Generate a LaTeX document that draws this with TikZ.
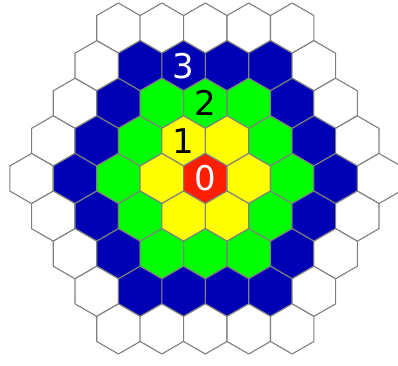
\documentclass[tikz,border=0pt]{standalone}
\usepackage{fontspec}
\setmainfont{DejaVu Sans}
\definecolor{ring0}{HTML}{FF1E00}
\definecolor{ring1}{HTML}{FFFF00}
\definecolor{ring2}{HTML}{00FF00}
\definecolor{ring3}{HTML}{0000B4}
\definecolor{ring4}{HTML}{FFFFFF}
\definecolor{hexgray}{HTML}{7F7F7F}

\begin{document}
\begin{tikzpicture}[
      x=1pt,y=1pt,
      hexln/.style={draw=hexgray,line width=1.1pt,line join=round},
      ringlab/.style={font=\fontsize{34}{34}\selectfont,inner sep=0pt},
    ]
    \def\R{25.07}
    \def\w{43.43}
    \def\cx{205.3}\def\cy{186.5}
    \useasboundingbox (0,0) rectangle (398,365);
    \foreach \r in {-4,...,4}{
      \foreach \q in {-4,...,4}{
        \pgfmathtruncatemacro{\s}{0-(\q)-(\r)}
        \pgfmathtruncatemacro{\d}{max(abs(\q),abs(\r),abs(\s))}
        \ifnum\d<5
          \pgfmathsetmacro{\hx}{\cx+(\q+0.5*\r)*\w}
          \pgfmathsetmacro{\hy}{\cy-1.5*\r*\R}
          \filldraw[hexln,fill=ring\d] (\hx,\hy) +(30:\R) -- +(90:\R) -- +(150:\R)
            -- +(210:\R) -- +(270:\R) -- +(330:\R) -- cycle;
        \fi
      }
    }
    \foreach \n/\dx/\dy/\tc in {0/0/0/white, 1/-0.5/1.5/black, 2/0/3/black, 3/-0.5/4.5/white}{
      \node[ringlab,text=\tc] (lab\n) at (\cx+\dx*\w, \cy+\dy*\R) {\n};
    }
  \end{tikzpicture}
\end{document}
